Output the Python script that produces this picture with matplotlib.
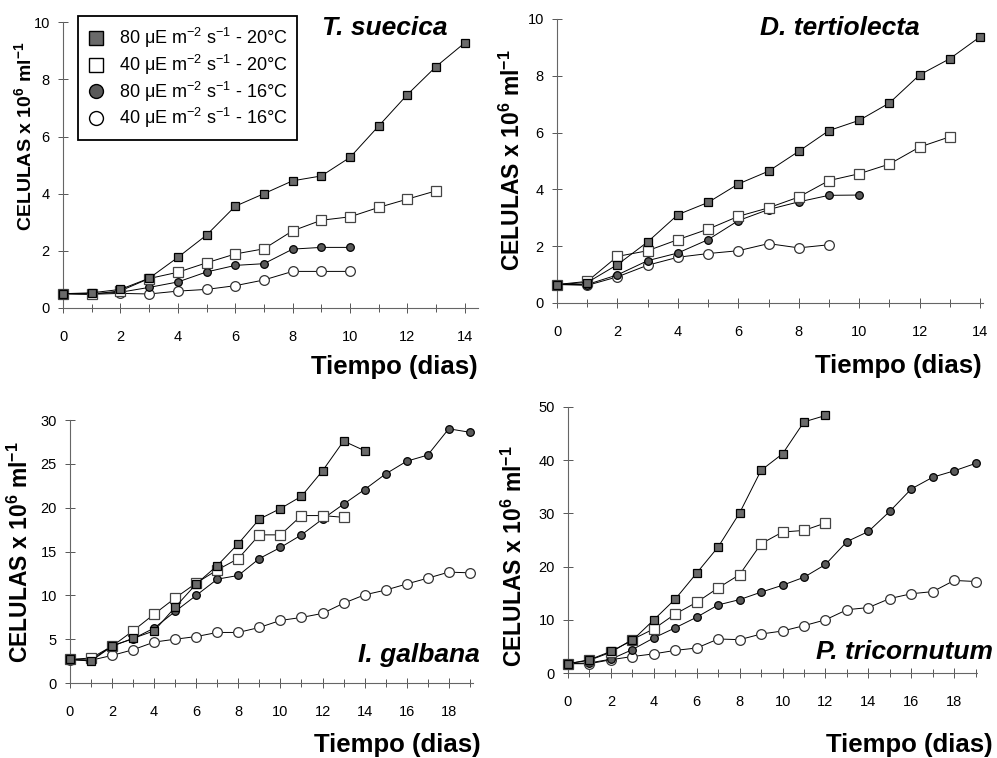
import matplotlib.pyplot as plt
from matplotlib.ticker import MultipleLocator

plt.rcParams['font.family'] = ['Liberation Sans', 'DejaVu Sans']
plt.rcParams['mathtext.default'] = 'regular'

# dias de cultivo (0..19)
days = list(range(20))

# T. suecica
ts_80_20 = [0.5, 0.53, 0.65, 1.04, 1.77, 2.55, 3.56, 4.0, 4.45, 4.62, 5.27, 6.37, 7.47, 8.45, 9.28]
ts_40_20 = [0.5, 0.48, 0.6, 1.03, 1.25, 1.58, 1.89, 2.07, 2.7, 3.07, 3.19, 3.52, 3.81, 4.1]
ts_80_16 = [0.5, 0.5, 0.55, 0.72, 0.91, 1.26, 1.49, 1.55, 2.06, 2.12, 2.12]
ts_40_16 = [0.5, 0.48, 0.51, 0.49, 0.59, 0.65, 0.78, 0.98, 1.28, 1.28, 1.28]

# D. tertiolecta
dt_80_20 = [0.65, 0.72, 1.35, 2.15, 3.11, 3.54, 4.19, 4.64, 5.34, 6.07, 6.43, 7.04, 8.03, 8.6, 9.37]
dt_40_20 = [0.65, 0.76, 1.64, 1.84, 2.23, 2.6, 3.05, 3.35, 3.73, 4.31, 4.55, 4.89, 5.49, 5.85]
dt_80_16 = [0.65, 0.65, 0.99, 1.49, 1.76, 2.23, 2.9, 3.29, 3.56, 3.79, 3.8]
dt_40_16 = [0.65, 0.62, 0.92, 1.33, 1.61, 1.74, 1.84, 2.09, 1.94, 2.05]

# I. galbana
ig_80_20 = [2.7, 2.5, 4.2, 5.1, 5.95, 8.66, 11.3, 13.4, 15.9, 18.7, 19.9, 21.3, 24.2, 27.6, 26.5]
ig_40_20 = [2.7, 2.85, 4.2, 5.96, 7.86, 9.7, 11.4, 12.9, 14.2, 16.9, 16.9, 19.1, 19.1, 18.9]
ig_80_16 = [2.7, 2.6, 4.25, 5.05, 6.27, 8.17, 10.0, 11.85, 12.27, 14.2, 15.46, 16.9, 18.7, 20.4,
            22.07, 23.85, 25.3, 26.0, 29.0, 28.6]
ig_40_16 = [2.66, 2.6, 3.15, 3.8, 4.67, 5.0, 5.3, 5.77, 5.77, 6.34, 7.14, 7.48, 7.94, 9.1,
            10.06, 10.6, 11.3, 11.96, 12.65, 12.57]

# P. tricornutum
pt_80_20 = [1.75, 2.5, 4.07, 6.14, 10.0, 13.9, 18.8, 23.7, 30.1, 38.1, 41.2, 47.2, 48.4]
pt_40_20 = [1.75, 2.4, 3.9, 6.3, 8.3, 11.1, 13.3, 16.0, 18.5, 24.3, 26.5, 26.8, 28.2]
pt_80_16 = [1.75, 1.9, 2.6, 4.4, 6.6, 8.5, 10.5, 12.8, 13.8, 15.2, 16.5, 18.0, 20.4, 24.7,
            26.6, 30.4, 34.6, 36.8, 38.0, 39.4]
pt_40_16 = [1.75, 1.75, 2.5, 3.1, 3.6, 4.26, 4.7, 6.4, 6.27, 7.33, 7.9, 8.9, 10.0, 11.9,
            12.3, 14.0, 14.9, 15.3, 17.4, 17.2]

labels = ['80 μE m$^{-2}$ s$^{-1}$ - 20°C',
          '40 μE m$^{-2}$ s$^{-1}$ - 20°C',
          '80 μE m$^{-2}$ s$^{-1}$ - 16°C',
          '40 μE m$^{-2}$ s$^{-1}$ - 16°C']

styles = [dict(marker='s', mfc='#6a6a6a', mec='black', ms=5.5),
          dict(marker='s', mfc='white', mec='#444444', ms=6.5),
          dict(marker='o', mfc='#5a5a5a', mec='black', ms=5.5),
          dict(marker='o', mfc='white', mec='#333333', ms=7)]

fig = plt.figure(figsize=(9.97, 7.58), dpi=100)


def make_panel(rect, series, xmax, xlim, ymax, ystep):
    ax = fig.add_axes(rect)
    # dibujar de abajo hacia arriba (circulos abiertos primero)
    for vals, st in reversed(list(zip(series, styles))):
        ax.plot(days[:len(vals)], vals, color='black', lw=0.7, mew=0.9,
                clip_on=False, zorder=3, **st)
    ax.set_xlim(0, xlim)
    ax.set_ylim(0, ymax)
    ax.set_xticks(list(range(0, xmax, 2)) if xmax % 2 else list(range(0, xmax + 1, 2)))
    ax.set_xticks(list(range(0, xmax + 1)), minor=True)
    ax.set_yticks(list(range(0, ymax + 1, ystep)))
    for s in ['top', 'right']:
        ax.spines[s].set_visible(False)
    for s in ['left', 'bottom']:
        ax.spines[s].set_color('#666666')
        ax.spines[s].set_linewidth(0.8)
        ax.spines[s].set_linestyle((0, (4, 1, 1, 1)))
    ax.tick_params(which='both', direction='inout', color='#555555', width=0.7)
    ax.tick_params(which='major', length=7, labelsize=10.5)
    ax.tick_params(which='minor', length=6)
    ax.tick_params(axis='x', pad=12)
    ax.tick_params(axis='y', pad=6)
    return ax


ax1 = make_panel([0.0632, 0.5937, 0.416, 0.377],
                 [ts_80_20, ts_40_20, ts_80_16, ts_40_16], 14, 14.45, 10, 2)
ax2 = make_panel([0.5587, 0.6003, 0.4273, 0.3747],
                 [dt_80_20, dt_40_20, dt_80_16, dt_40_16], 14, 14.1, 10, 2)
ax3 = make_panel([0.0702, 0.0989, 0.4042, 0.347],
                 [ig_80_20, ig_40_20, ig_80_16, ig_40_16], 19, 19.15, 30, 5)
ax4 = make_panel([0.5697, 0.1121, 0.410, 0.351],
                 [pt_80_20, pt_40_20, pt_80_16, pt_40_16], 19, 19.05, 50, 10)

# leyenda (solo marcadores)
handles = [plt.Line2D([], [], ls='none', marker=st['marker'], mfc=st['mfc'],
                      mec='black', ms=10, mew=1.0) for st in styles]
leg = ax1.legend(handles, labels, loc='upper left', bbox_to_anchor=(78 / 997, 1 - 16 / 758),
                 bbox_transform=fig.transFigure, borderaxespad=0, fancybox=False,
                 framealpha=1, edgecolor='black', fontsize=13, handlelength=0.9,
                 handletextpad=0.8, labelspacing=0.15, borderpad=0.55)
leg.get_frame().set_linewidth(1.3)
leg.set_zorder(5)

# nombres de especies
sp_font = dict(fontsize=19, fontweight='bold', fontstyle='italic', ha='right', va='center')
fig.text(447 / 997, 1 - 28 / 758, 'T. suecica', **sp_font)
fig.text(920 / 997, 1 - 28 / 758, 'D. tertiolecta', **sp_font)
fig.text(480 / 997, 1 - 655 / 758, 'I. galbana', **sp_font)
fig.text(993 / 997, 1 - 652 / 758, 'P. tricornutum', **sp_font)

# etiquetas de ejes
xl = dict(fontsize=18.5, fontweight='bold', ha='right', va='center')
fig.text(478 / 997, 1 - 367 / 758, 'Tiempo (dias)', **xl)
fig.text(982 / 997, 1 - 366 / 758, 'Tiempo (dias)', **xl)
fig.text(481 / 997, 1 - 745 / 758, 'Tiempo (dias)', **xl)
fig.text(993 / 997, 1 - 745 / 758, 'Tiempo (dias)', **xl)

yl_text = 'CELULAS x 10$^{6}$ ml$^{-1}$'
yl = dict(fontweight='bold', rotation=90, ha='center', va='center')
fig.text(24 / 997, 1 - 136 / 758, yl_text, fontsize=14, **yl)
fig.text(512 / 997, 1 - 160 / 758, yl_text, fontsize=16.5, **yl)
fig.text(20 / 997, 1 - 552 / 758, yl_text, fontsize=16.5, **yl)
fig.text(514 / 997, 1 - 556 / 758, yl_text, fontsize=16.5, **yl)

fig.savefig('out.png', dpi=100)
